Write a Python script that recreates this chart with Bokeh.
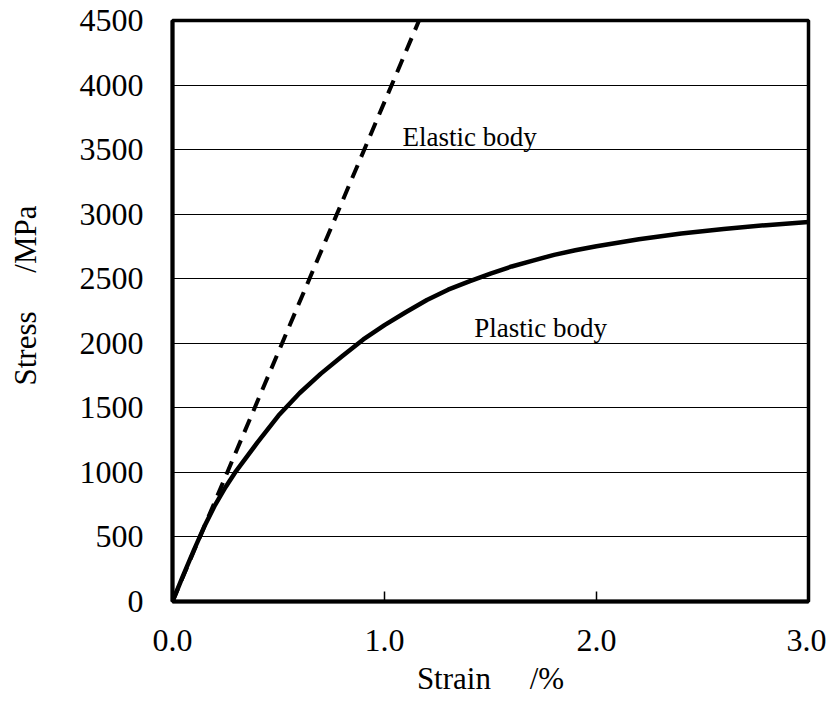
from bokeh.plotting import figure
from bokeh.models import FixedTicker, Label, Range1d, CustomJSTickFormatter
from bokeh.embed import file_html
from bokeh.resources import INLINE

# ---- data ----
x_ticks = [0.0, 1.0, 2.0, 3.0]
y_ticks = [0, 500, 1000, 1500, 2000, 2500, 3000, 3500, 4000, 4500]

elastic_strain = [0.0, 1.163]
elastic_stress = [0, 4500]

plastic_strain = [0.0, 0.05, 0.1, 0.15, 0.2, 0.25, 0.3, 0.4, 0.5, 0.6, 0.7,
                  0.8, 0.9, 1.0, 1.1, 1.2, 1.3, 1.4, 1.5, 1.6, 1.7, 1.8, 1.9,
                  2.0, 2.2, 2.4, 2.6, 2.8, 3.0]
plastic_stress = [0, 200, 395, 580, 745, 885, 1010, 1230, 1440, 1615, 1765,
                  1900, 2030, 2140, 2240, 2335, 2415, 2480, 2540, 2595, 2640,
                  2685, 2720, 2752, 2805, 2850, 2885, 2915, 2940]

FONT = "Liberation Serif"
NB = "\u00a0"

p = figure(width=826, height=698, output_backend="svg", toolbar_location=None,
           x_range=Range1d(0, 3.0), y_range=Range1d(0, 4500),
           min_border_left=172, min_border_right=18, min_border_top=20,
           min_border_bottom=97)

p.background_fill_color = "white"
p.border_fill_color = "white"
p.outline_line_color = "black"
p.outline_line_width = 3.5

# grid
p.xgrid.grid_line_color = None
p.ygrid.ticker = FixedTicker(ticks=y_ticks)
p.ygrid.grid_line_color = "black"
p.ygrid.grid_line_width = 1.2

# x axis
xa = p.xaxis[0]
xa.ticker = FixedTicker(ticks=x_ticks)
xa.formatter = CustomJSTickFormatter(code="return tick.toFixed(1);")
xa.axis_label = "Strain" + NB * 5 + "/%"
xa.axis_label_text_font = FONT
xa.axis_label_text_font_style = "normal"
xa.axis_label_text_font_size = "31px"
xa.axis_label_text_color = "black"
xa.axis_label_standoff = 7
xa.major_label_text_font = FONT
xa.major_label_text_font_size = "32px"
xa.major_label_text_color = "black"
xa.major_label_standoff = 28
xa.major_tick_in = 10
xa.major_tick_out = 0
xa.major_tick_line_width = 1.5
xa.major_tick_line_color = "black"
xa.minor_tick_line_color = None
xa.axis_line_width = 4
xa.axis_line_color = "black"

# y axis
ya = p.yaxis[0]
ya.ticker = FixedTicker(ticks=y_ticks)
ya.formatter = CustomJSTickFormatter(code="return tick.toFixed(0);")
ya.axis_label = NB * 4 + "Stress" + NB * 5 + "/MPa"
ya.axis_label_text_font = FONT
ya.axis_label_text_font_style = "normal"
ya.axis_label_text_font_size = "31px"
ya.axis_label_text_color = "black"
ya.axis_label_standoff = 34
ya.major_label_text_font = FONT
ya.major_label_text_font_size = "32px"
ya.major_label_text_color = "black"
ya.major_label_standoff = 29
ya.major_tick_in = 0
ya.major_tick_out = 0
ya.minor_tick_line_color = None
ya.axis_line_width = 4
ya.axis_line_color = "black"

# curves
p.line(elastic_strain, elastic_stress, line_color="black", line_width=4,
       line_dash="14 9")
p.line(plastic_strain, plastic_stress, line_color="black", line_width=4.5,
       line_join="round")

# annotations
p.add_layout(Label(x=1.085, y=3600, text="Elastic body", text_font=FONT,
                   text_font_size="27px", text_color="black",
                   text_baseline="alphabetic", text_align="left"))
p.add_layout(Label(x=1.423, y=2120, text="Plastic body", text_font=FONT,
                   text_font_size="27px", text_color="black",
                   text_baseline="alphabetic", text_align="left"))

open("out.html", "w").write(file_html(p, INLINE))
